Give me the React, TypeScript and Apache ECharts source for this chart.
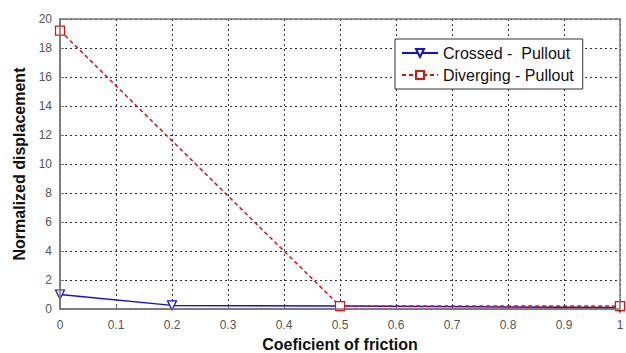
import React, { useEffect, useRef } from "react";
import * as echarts from "echarts";

const xTicks = [0, 0.1, 0.2, 0.3, 0.4, 0.5, 0.6, 0.7, 0.8, 0.9, 1];
const crossedX = [0, 0.2, 0.5, 1];
const crossedY = [1.0, 0.25, 0.2, 0.1];
const divergingX = [0, 0.5, 1];
const divergingY = [19.2, 0.2, 0.2];

export default function App() {
  const ref = useRef<HTMLDivElement>(null);
  useEffect(() => {
    const chart = echarts.init(ref.current!, null, { renderer: "svg" });
    const font = "Arial, 'Liberation Sans', sans-serif";
    chart.setOption({
      animation: false,
      backgroundColor: "#fff",
      grid: { left: 60, right: 6, top: 19, bottom: 44, containLabel: false, outerBoundsMode: "none" },
      legend: {
        show: true,
        left: 395,
        top: 39,
        orient: "vertical",
        backgroundColor: "#fff",
        borderColor: "#333",
        borderWidth: 1,
        padding: [6, 9, 6, 6],
        itemGap: 6,
        itemWidth: 36,
        itemHeight: 10,
        textStyle: { fontFamily: font, fontSize: 16, color: "#111" },
        data: [
          { name: "Crossed -  Pullout" },
          { name: "Diverging - Pullout" },
        ],
      },
      xAxis: {
        type: "value",
        min: 0,
        max: 1,
        interval: 0.1,
        name: "Coeficient of friction",
        nameLocation: "middle",
        nameGap: 27,
        nameTextStyle: { fontFamily: font, fontSize: 16, fontWeight: "bold", color: "#111" },
        axisLine: { show: true, lineStyle: { color: "#777", width: 1.5 } },
        axisTick: { show: true, inside: true, length: 4, lineStyle: { color: "#777" } },
        axisLabel: {
          fontFamily: font,
          fontSize: 12,
          color: "#555",
          margin: 10,
          formatter: (v: number) => {
            const found = xTicks.find((t) => Math.abs(t - v) < 1e-9);
            return found === undefined ? "" : String(found);
          },
        },
        splitLine: { show: true, lineStyle: { color: "#333", type: [2, 3], width: 1 } },
      },
      yAxis: {
        type: "value",
        min: 0,
        max: 20,
        interval: 2,
        name: "Normalized displacement",
        nameLocation: "middle",
        nameGap: 32,
        nameTextStyle: { fontFamily: font, fontSize: 16, fontWeight: "bold", color: "#111" },
        axisLine: { show: true, lineStyle: { color: "#777", width: 1.5 } },
        axisTick: { show: true, inside: true, length: 4, lineStyle: { color: "#777" } },
        axisLabel: { fontFamily: font, fontSize: 12, color: "#555", margin: 8 },
        splitLine: { show: true, lineStyle: { color: "#333", type: [2, 3], width: 1 } },
      },
      series: [
        {
          name: "Crossed -  Pullout",
          type: "line",
          data: crossedX.map((x, i) => [x, crossedY[i]]),
          symbol: "triangle",
          symbolRotate: 180,
          symbolSize: 9,
          itemStyle: { color: "#fff", borderColor: "#1010e0", borderWidth: 1.2 },
          lineStyle: { color: "#1010e0", width: 1.5 },
          z: 3,
        },
        {
          name: "Diverging - Pullout",
          type: "line",
          data: divergingX.map((x, i) => [x, divergingY[i]]),
          symbol: "rect",
          symbolSize: 9,
          itemStyle: { color: "#fff", borderColor: "#e01010", borderWidth: 1.2 },
          lineStyle: { color: "#e01010", width: 1.5, type: [4, 3] },
          z: 4,
        },
      ],
      graphic: [
        {
          type: "rect",
          shape: { x: 60, y: 19, width: 560, height: 290 },
          style: { fill: "none", stroke: "#777", lineWidth: 1.5 },
          silent: true,
          z: 10,
        },
      ],
    });
    return () => chart.dispose();
  }, []);
  return <div ref={ref} style={{ width: 626, height: 353, position: "absolute", left: 0, top: 0 }} />;
}
